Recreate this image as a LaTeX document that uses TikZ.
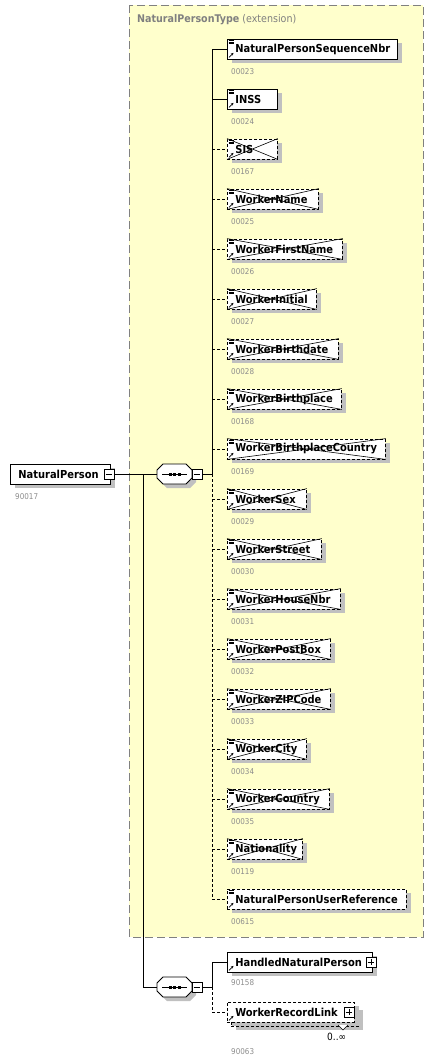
\documentclass[tikz,border=0pt]{standalone}
\usepackage{fontspec}
\setmainfont{Liberation Sans}
\newfontfamily\tahomalike{DejaVu Sans Condensed}
\usetikzlibrary{shadows,arrows.meta}
\definecolor{typefill}{RGB}{255,255,204}
\definecolor{typeborder}{RGB}{128,128,128}
\definecolor{shadowgray}{RGB}{192,192,192}
\definecolor{idgray}{RGB}{140,140,140}
\tikzset{
  elfont/.style={font=\tahomalike\fontsize{11}{13}\selectfont\bfseries},
  elbase/.style={draw, fill=white, line width=0.8pt, minimum height=20pt, inner ysep=0pt,
     inner xsep=8pt, align=left, anchor=west, elfont,
     general shadow={fill=shadowgray, shadow xshift=5pt, shadow yshift=-4pt}},
  mbox/.style={elbase},
  xbox/.style={elbase, dash pattern=on 3pt off 2pt},
  obox/.style={elbase, dash pattern=on 3pt off 2pt},
  idlbl/.style={anchor=west, inner sep=0pt, text=idgray, font=\tahomalike\fontsize{8}{10}\selectfont},
  conn/.style={line width=0.8pt},
  optconn/.style={line width=0.8pt, dash pattern=on 3pt off 2pt},
  seqnode/.style={rectangle, minimum width=35pt, minimum height=20pt, inner sep=0pt},
  toggle/.style={draw, fill=white, line width=0.7pt, minimum size=10pt, inner sep=0pt},
  crossline/.style={line width=0.6pt},
  iconline/.style={line width=0.6pt},
  iconarrow/.style={line width=0.8pt, -{Stealth[length=2.6pt,width=2.6pt]}},
}
\begin{document}
\begin{tikzpicture}[x=1pt,y=-1pt]
\useasboundingbox (0,0) rectangle (436,1063);

% complex type container
\draw[typeborder, fill=typefill, line width=0.8pt, dash pattern=on 8pt off 4pt] (129,5) rectangle (423,937);
\node[anchor=west, inner sep=0pt, text=typeborder, font=\tahomalike\fontsize{10.6}{13}\selectfont] (ttl) at (137,20)
  {\textbf{NaturalPersonType} (extension)};

% root element
\node[draw, fill=white, line width=0.8pt, minimum width=100pt, minimum height=20pt, inner sep=0pt,
      anchor=west, elfont, text width=84pt, inner xsep=8pt, align=left,
      general shadow={fill=shadowgray, shadow xshift=5pt, shadow yshift=-4pt}] (np) at (10,474) {NaturalPerson};
\node[toggle] (npm) at (109,474) {};
\draw[line width=0.7pt] ([xshift=2pt]npm.west) -- ([xshift=-2pt]npm.east);
\node[idlbl] (npid) at (15,497) {90017};

% sequence compositors
\foreach \cy/\nm in {474/s1,987/s2} {
  \node[seqnode] (\nm) at (174.5,\cy) {};
  \fill[shadowgray, xshift=4pt, yshift=-4pt] (163,\cy-10) -- (186,\cy-10) -- (192,\cy-4) -- (192,\cy+4)
     -- (186,\cy+10) -- (163,\cy+10) -- (157,\cy+4) -- (157,\cy-4) -- cycle;
  \draw[fill=white, line width=0.8pt] (163,\cy-10) -- (186,\cy-10) -- (192,\cy-4) -- (192,\cy+4)
     -- (186,\cy+10) -- (163,\cy+10) -- (157,\cy+4) -- (157,\cy-4) -- cycle;
  \draw[line width=0.8pt] (162,\cy) -- (187,\cy);
  \foreach \dx in {-4.5,0,4.5}
    \fill (174.5+\dx-1.5,\cy-1.5) rectangle (174.5+\dx+1.5,\cy+1.5);
  \node[toggle] (\nm m) at (197,\cy) {};
  \draw[line width=0.7pt] ([xshift=2pt]\nm m.west) -- ([xshift=-2pt]\nm m.east);
}
\coordinate (j0) at (143,474);
\coordinate (j1) at (212,474);
\coordinate (j2) at (212,987);

% children of NaturalPersonType
\foreach \nm/\r/\id/\t [count=\i] in {
  NaturalPersonSequenceNbr/397/00023/mbox,
  INSS/277/00024/mbox,
  SIS/277/00167/xbox,
  WorkerName/318/00025/xbox,
  WorkerFirstName/342/00026/xbox,
  WorkerInitial/316/00027/xbox,
  WorkerBirthdate/338/00028/xbox,
  WorkerBirthplace/341/00168/xbox,
  WorkerBirthplaceCountry/385/00169/xbox,
  WorkerSex/306/00029/xbox,
  WorkerStreet/321/00030/xbox,
  WorkerHouseNbr/340/00031/xbox,
  WorkerPostBox/330/00032/xbox,
  WorkerZIPCode/330/00033/xbox,
  WorkerCity/306/00034/xbox,
  WorkerCountry/329/00035/xbox,
  Nationality/302/00119/xbox,
  NaturalPersonUserReference/406/00615/obox} {
  \pgfmathsetmacro\yy{49+50*(\i-1)}
  \pgfmathsetmacro\ww{\r-227-16}
  \node[\t, text width=\ww pt] (e\i) at (227,\yy) {\nm};
  \draw[iconline] ([xshift=1.5pt,yshift=-1.8pt]e\i.north west) -- ++(5,0)
                  ([xshift=1.5pt,yshift=-3.4pt]e\i.north west) -- ++(5,0)
                  ([xshift=1.5pt,yshift=-5pt]e\i.north west) -- ++(5,0);
  \draw[iconarrow] ([xshift=2pt,yshift=2pt]e\i.south west) -- ++(4.5,-4.5);
  \node[idlbl] (id\i) at (231,\yy+23) {\id};
}
% crosses on prohibited elements
\foreach \i in {3,...,17}
  \draw[crossline] (e\i.north west) -- (e\i.south east) (e\i.south west) -- (e\i.north east);

% children of second sequence
\node[mbox, text width=129pt] (hnp) at (227,962) {HandledNaturalPerson};
\draw[iconarrow] ([xshift=2pt,yshift=2pt]hnp.south west) -- ++(4.5,-4.5);
\node[toggle] (hnpp) at (371,962) {};
\draw[line width=0.7pt] ([xshift=2pt]hnpp.west) -- ([xshift=-2pt]hnpp.east)
                        ([yshift=-2pt]hnpp.north) -- ([yshift=2pt]hnpp.south);
\node[idlbl] (hnpid) at (231,983) {90158};

\node[obox, text width=111pt] (wrlb) at (231,1016) {\phantom{WorkerRecordLink}};
\node[obox, text width=111pt, general shadow={fill=white, shadow xshift=0pt, shadow yshift=0pt}] (wrl) at (227,1012) {WorkerRecordLink};
\draw[iconarrow] ([xshift=2pt,yshift=2pt]wrl.south west) -- ++(4.5,-4.5);
\node[toggle] (wrlp) at (349,1012) {};
\draw[line width=0.7pt] ([xshift=2pt]wrlp.west) -- ([xshift=-2pt]wrlp.east)
                        ([yshift=-2pt]wrlp.north) -- ([yshift=2pt]wrlp.south);
\draw[line width=0.6pt, fill=white] (338,1025) -- (343,1030) -- (348,1025);
\node[anchor=west, inner sep=0pt, font=\tahomalike\fontsize{10}{12}\selectfont] (wrlocc) at (327,1037) {0..∞};
\node[idlbl] (wrlid) at (231,1052) {90063};

% connectors
\draw[conn] (npm.east) -- (s1.west);
\draw[conn] (j0) |- (s2.west);
\draw[conn] (s1m.east) -- (j1);
\draw[conn] (s2m.east) -- (j2);
\foreach \i in {3,...,18}
  \draw[optconn] (j1) |- (e\i.west);
\foreach \i in {1,2}
  \draw[conn] (j1) |- (e\i.west);
\draw[optconn] (j2) |- (wrl.west);
\draw[conn] (j2) |- (hnp.west);
\end{tikzpicture}
\end{document}
